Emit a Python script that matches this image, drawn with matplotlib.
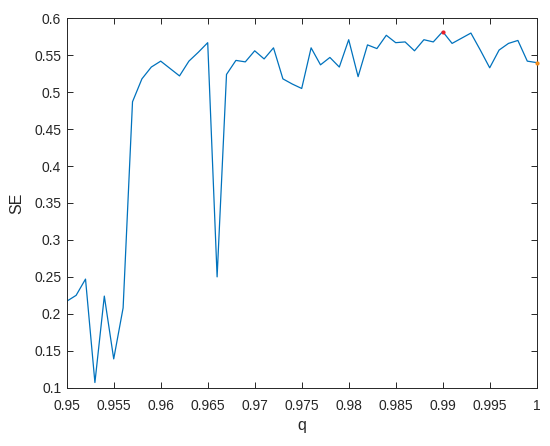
import matplotlib
matplotlib.use("Agg")
import matplotlib.pyplot as plt
import numpy as np

plt.rcParams['font.family'] = ['Liberation Sans', 'DejaVu Sans']

q = [0.950, 0.951, 0.952, 0.953, 0.954, 0.955, 0.956, 0.957, 0.958, 0.959,
     0.960, 0.961, 0.962, 0.963, 0.964, 0.965, 0.966, 0.967, 0.968, 0.969,
     0.970, 0.971, 0.972, 0.973, 0.974, 0.975, 0.976, 0.977, 0.978, 0.979,
     0.980, 0.981, 0.982, 0.983, 0.984, 0.985, 0.986, 0.987, 0.988, 0.989,
     0.990, 0.991, 0.992, 0.993, 0.994, 0.995, 0.996, 0.997, 0.998, 0.999,
     1.000]
se = [0.217, 0.225, 0.247, 0.107, 0.224, 0.139, 0.208, 0.487, 0.518, 0.534,
      0.542, 0.532, 0.522, 0.542, 0.554, 0.567, 0.250, 0.524, 0.543, 0.541,
      0.556, 0.545, 0.560, 0.518, 0.511, 0.505, 0.560, 0.537, 0.547, 0.534,
      0.571, 0.521, 0.564, 0.559, 0.577, 0.567, 0.568, 0.556, 0.571, 0.568,
      0.582, 0.566, 0.573, 0.580, 0.557, 0.533, 0.557, 0.566, 0.570, 0.542,
      0.540]

xticks = [0.95, 0.955, 0.96, 0.965, 0.97, 0.975, 0.98, 0.985, 0.99, 0.995, 1.0]
xticklabels = ['0.95', '0.955', '0.96', '0.965', '0.97', '0.975', '0.98', '0.985', '0.99', '0.995', '1']
yticks = [0.1, 0.15, 0.2, 0.25, 0.3, 0.35, 0.4, 0.45, 0.5, 0.55, 0.6]
yticklabels = ['0.1', '0.15', '0.2', '0.25', '0.3', '0.35', '0.4', '0.45', '0.5', '0.55', '0.6']

fig = plt.figure(figsize=(5.5, 4.46), dpi=100)
ax = fig.add_axes([0.1213, 0.1307, 0.8545, 0.8283])

ax.plot(q, se, color='#0072BD', lw=0.9)
imax = int(np.argmax(se))
ax.plot(q[imax], se[imax], 'o', color='#E8202A', ms=3, mec='none', clip_on=False, zorder=5)
ax.plot(q[-1], se[-1], 'o', color='#F28C1A', ms=3, mec='none', clip_on=False, zorder=5)

ax.set_xlim(0.95, 1.0)
ax.set_ylim(0.1, 0.6)
ax.set_xticks(xticks)
ax.set_xticklabels(xticklabels)
ax.set_yticks(yticks)
ax.set_yticklabels(yticklabels)

dark = '#262626'
for s in ax.spines.values():
    s.set_color(dark)
    s.set_linewidth(0.7)
ax.tick_params(direction='in', top=True, right=True, length=4, width=0.7,
               colors=dark, labelsize=10)
ax.tick_params(axis='x', pad=8)
ax.tick_params(axis='y', pad=4)
ax.set_xlabel('q', fontsize=11.5, color=dark, labelpad=4)
ax.set_ylabel('SE', fontsize=11.5, color=dark, labelpad=7)

fig.savefig('out.png', dpi=100)
